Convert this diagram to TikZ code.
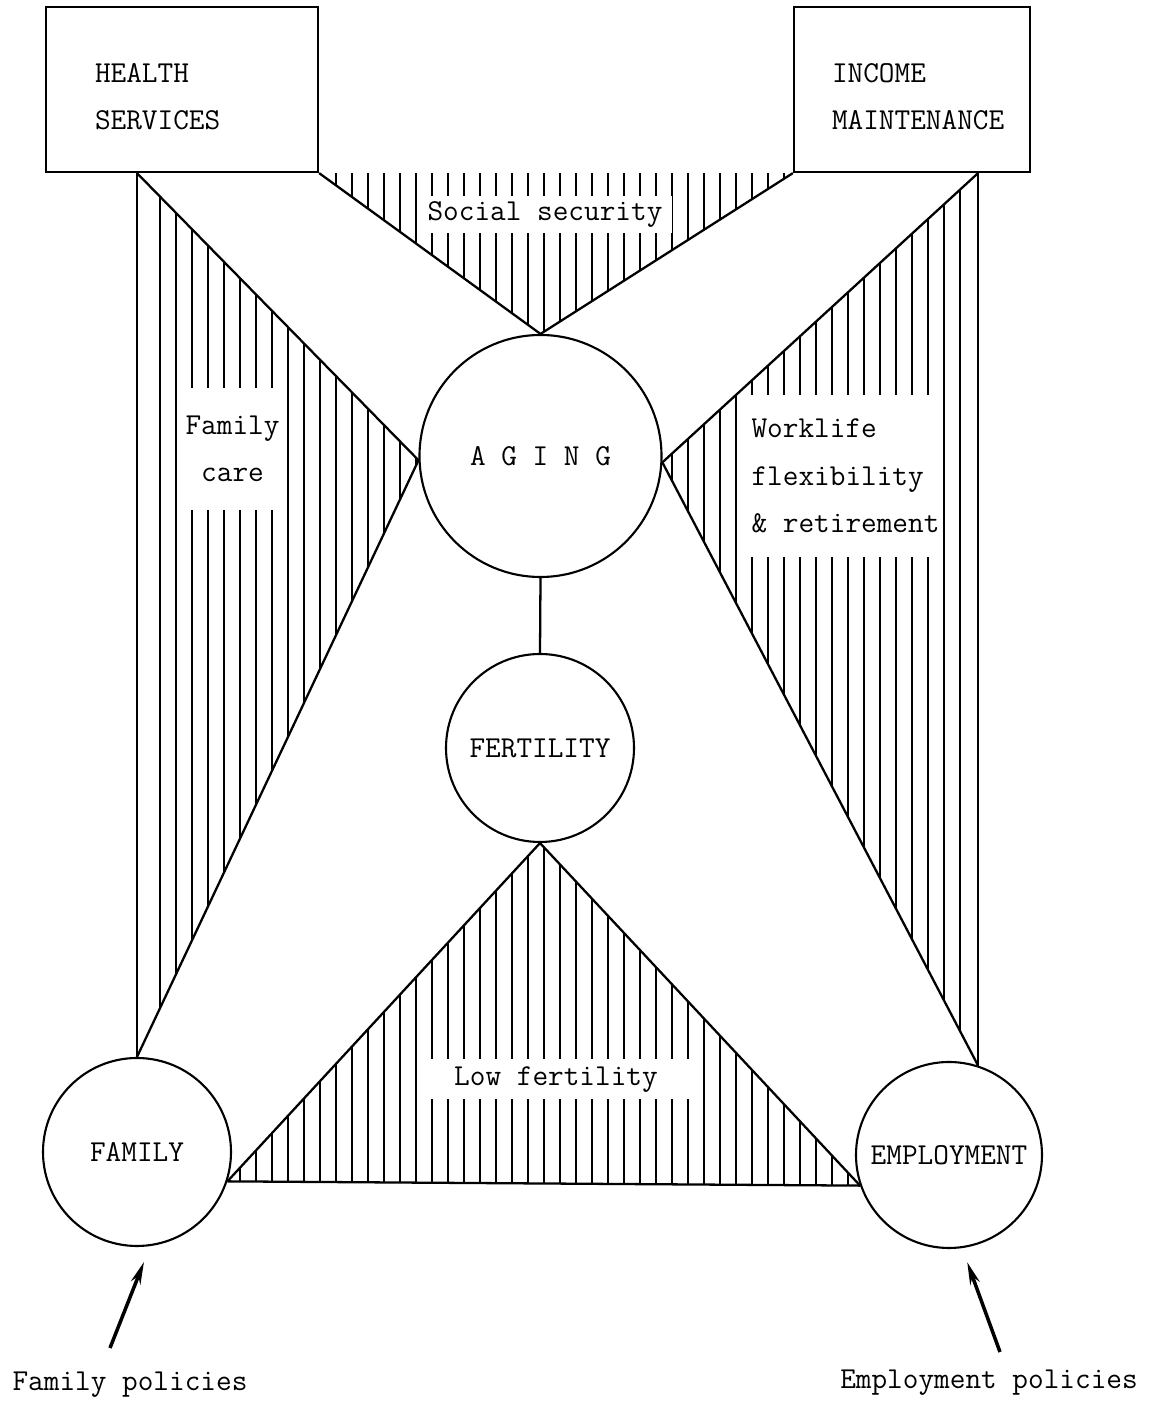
\documentclass[tikz,border=0pt]{standalone}
\usepackage{fontspec}
\usetikzlibrary{arrows.meta}

\newcommand{\hatchlines}[2]{\foreach \n in {#1,...,#2} \draw[hatch] (0.32*\n,0) -- (0.32*\n,28.1);}

\begin{document}
\begin{tikzpicture}[scale = 1,
    every node/.style = {font=\ttfamily\fontsize{17.3}{27}\selectfont},
    box/.style = {draw, line width=1.3pt, minimum height=3.3cm, align=left},
    circ/.style = {draw, circle, line width=1.2pt, inner sep=0pt},
    lbl/.style = {fill=white, inner sep=0pt},
    edge/.style = {line width=1.3pt},
    hatch/.style = {line width=1pt},
    policy/.style = {-{Stealth[length=0.45cm, width=0.2cm]}, line width=2pt}]
            \useasboundingbox (0,0) rectangle (23.08,28.14);
            \node[box, minimum width=5.44cm, text width=3.48cm, inner xsep=0.98cm] (health) at (3.64,26.35) {\rule{0pt}{0.67cm}HEALTH\\SERVICES};
            \node[box, minimum width=4.72cm, text width=3.2cm, inner xsep=0.76cm] (income) at (18.24,26.35) {\rule{0pt}{0.67cm}INCOME\\MAINTENANCE};
            \node[circ, minimum size=4.84cm] (aging) at (10.81,19.02) {A G I N G};
            \node[circ, minimum size=3.76cm] (fert) at (10.8,13.18) {FERTILITY};
            \node[circ, minimum size=3.76cm] (family) at (2.74,5.1) {FAMILY};
            \node[circ, minimum size=3.72cm] (employ) at (18.98,5.04) {EMPLOYMENT};
            \coordinate (lefttop) at (family.north |- health.south);
            \coordinate (righttop) at (employ.72 |- income.south);
            % hatched areas
            \begin{scope}
              \clip (lefttop) -- (aging.182) -- (family.north) -- cycle;
              \hatchlines{10}{27}
            \end{scope}
            \begin{scope}
              \clip (health.south east) -- (aging.north) -- (income.south west) -- cycle;
              \hatchlines{19}{50}
            \end{scope}
            \begin{scope}
              \clip (righttop) -- (aging.-3) -- (employ.72) -- cycle;
              \hatchlines{41}{60}
            \end{scope}
            \begin{scope}
              \clip (fert.south) -- (family.-18) -- (employ.199) -- cycle;
              \hatchlines{14}{54}
            \end{scope}
            \node[lbl, minimum width=5.08cm, minimum height=0.74cm] (socsec) at (10.9,23.84) {Social security};
            \node[lbl, minimum width=2.1cm, minimum height=2.44cm, align=center] (famcare) at (4.65,19.16) {Family\\care};
            \node[lbl, minimum width=3.9cm, minimum height=3.24cm, align=left] (work) at (16.91,18.62) {Worklife\\flexibility\\\& retirement};
            \node[lbl, minimum width=5.3cm, minimum height=0.8cm] (lowfert) at (11.12,6.55) {Low fertility};
            % connectors
            \draw[edge] (lefttop) -- (family.north);
            \draw[edge] (lefttop) -- (aging.182) -- (family.north);
            \draw[edge] (health.south east) -- (aging.north) -- (income.south west);
            \draw[edge] (righttop) -- (employ.72);
            \draw[edge] (righttop) -- (aging.-3) -- (employ.72);
            \draw[edge] (aging.south) -- (fert.north);
            \draw[edge] (family.-18) -- (fert.south) -- (employ.199);
            \draw[edge] (family.-18) -- (employ.199);
            % policies
            \node (famtxt) at (2.6,0.44) {Family policies};
            \node (emptxt) at (19.78,0.48) {Employment policies};
            \coordinate (famin) at (2.2,1.18);
            \coordinate (empin) at (20.0,1.1);
            \draw[policy, shorten >= 0.34cm] (famin) -- (family.-82);
            \draw[policy, shorten >= 0.3cm] (empin) -- (employ.-82);
          \end{tikzpicture}
\end{document}
